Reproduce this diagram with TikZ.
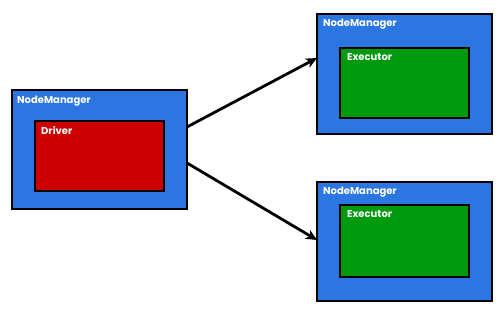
\documentclass[tikz,border=0pt]{standalone}
\usepackage{fontspec}
\setmainfont{Poppins}
\usetikzlibrary{arrows.meta,positioning}
\definecolor{nmblue}{HTML}{2B76E0}
\definecolor{drvred}{HTML}{CC0000}
\definecolor{exgreen}{HTML}{009A0E}
\tikzset{
  outerbox/.style={draw=black,fill=nmblue,line width=1.7pt,anchor=north west,minimum width=175pt,minimum height=119pt,inner sep=0pt},
  innerbox/.style={draw=black,fill=#1,line width=1.7pt,anchor=north west,minimum width=129pt,minimum height=70pt,inner sep=0pt},
  lbl/.style={text=white,font=\fontsize{10}{11}\selectfont\bfseries,anchor=north west,inner sep=0pt},
  conn/.style={line width=2.8pt,-{Stealth[length=11pt,width=10pt,inset=3pt]}}
}
\begin{document}
\begin{tikzpicture}[x=1pt,y=-1pt]
\useasboundingbox (0,0) rectangle (504,315);
% left
\node[outerbox] (nmL) at (11,89) {};
\node[innerbox=drvred] (drv) at (34,120) {};
\node[lbl] (nmLt) at (17,96) {NodeManager};
\node[lbl] (drvt) at (41,126) {Driver};
% top right
\node[outerbox,minimum height=120pt] (nmA) at (316,13) {};
\node[innerbox=exgreen] (exA) at (339,47) {};
\node[lbl] (nmAt) at (323,19) {NodeManager};
\node[lbl] (exAt) at (347,53) {Executor};
% bottom right
\node[outerbox] (nmB) at (316,181) {};
\node[innerbox=exgreen,minimum height=72pt] (exB) at (339,204) {};
\node[lbl] (nmBt) at (323,187) {NodeManager};
\node[lbl] (exBt) at (347,210) {Executor};
% connectors
\coordinate (s1) at (187,127);
\coordinate (e1) at (317,58);
\coordinate (s2) at (187,163);
\coordinate (e2) at (317,240);
\draw[conn] (s1) -- (e1);
\draw[conn] (s2) -- (e2);
\end{tikzpicture}
\end{document}
